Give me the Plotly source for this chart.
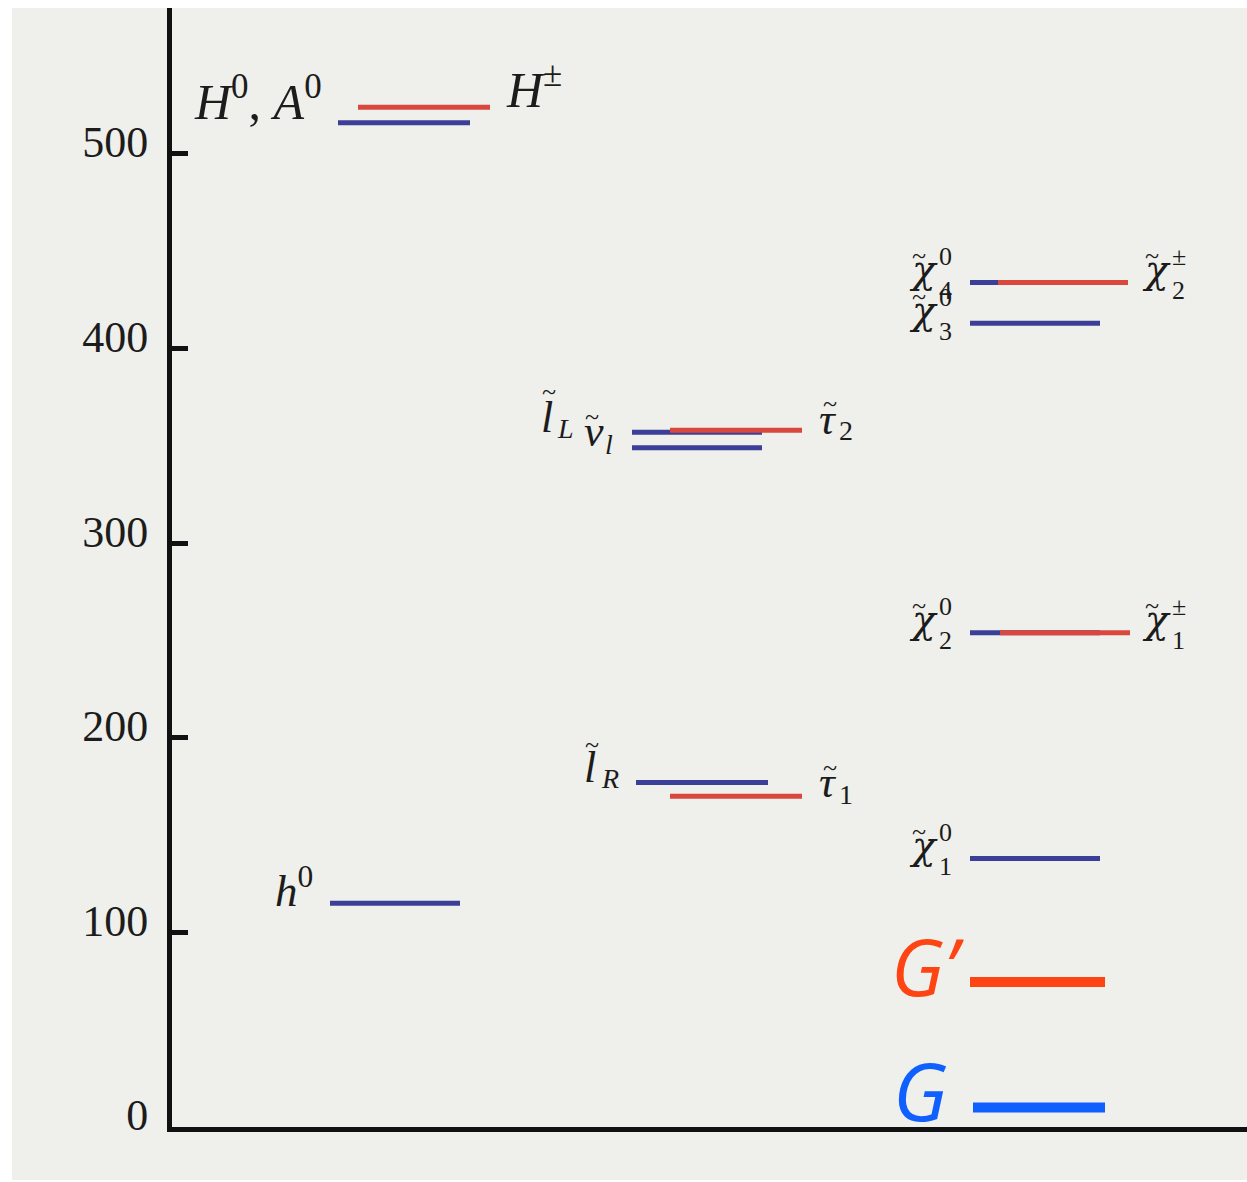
import plotly.graph_objects as go

# ---------------- data (masses, GeV) ----------------
higgs_names = ["h0", "H0A0", "Hpm"]
higgs_masses = [115, 516, 524]

slepton_names = ["lL", "nul", "tau2", "lR", "tau1"]
slepton_masses = [357, 349, 358, 177, 170]

gaugino_names = ["chi40", "chi2pm", "chi30", "chi20", "chi1pm", "chi10"]
gaugino_masses = [434, 434, 413, 254, 254, 138]

gravitino_names = ["Gp", "G"]
gravitino_masses = [74.5, 10]

y_tick_values = [0, 100, 200, 300, 400, 500]
y_tick_labels = ["0", "100", "200", "300", "400", "500"]

# ---------------- styling / layout ----------------
BLUE = "#3c3f97"
RED = "#d9473d"
G_RED = "#ff4414"
G_BLUE = "#1060ff"
TEXT = "#1c1c1c"
SERIF = "Liberation Serif"
CHI_FONT = "DejaVu Serif"

# left end of each level (x-axis units = px from the vertical axis), colour, width, length
style = {
    "h0": (158, BLUE, 5, 130), "H0A0": (166, BLUE, 5, 132), "Hpm": (186, RED, 5, 132),
    "lL": (460, BLUE, 5, 130), "nul": (460, BLUE, 5, 130), "tau2": (498, RED, 5, 132),
    "lR": (464, BLUE, 5, 132), "tau1": (498, RED, 5, 132),
    "chi40": (798, BLUE, 5, 130), "chi2pm": (826, RED, 5, 130), "chi30": (798, BLUE, 5, 130),
    "chi20": (798, BLUE, 5, 130), "chi1pm": (828, RED, 5, 130), "chi10": (798, BLUE, 5, 130),
    "Gp": (798, G_RED, 10, 135), "G": (801, G_BLUE, 10, 132),
}

fig = go.Figure()
mass_of = {}
for names, masses in [(higgs_names, higgs_masses), (slepton_names, slepton_masses),
                      (gaugino_names, gaugino_masses), (gravitino_names, gravitino_masses)]:
    for n, m in zip(names, masses):
        x0, col, w, L = style[n]
        mass_of[n] = m
        fig.add_trace(go.Scatter(x=[x0, x0 + L], y=[m, m], mode="lines",
                                 line=dict(color=col, width=w),
                                 hoverinfo="skip", showlegend=False))

annotations = []


def piece(text, anchor, dx, yshift, size, xanchor="center", font=SERIF, color=TEXT):
    """Place a piece of label text relative to the left end of a level."""
    x0 = style[anchor][0]
    annotations.append(dict(x=x0 + dx, y=mass_of[anchor], xref="x", yref="y", text=text,
                            xanchor=xanchor, yanchor="middle", yshift=yshift,
                            showarrow=False, align="left",
                            font=dict(family=font, size=size, color=color)))


def tilded(base, sub, anchor, dx, yshift, sub_dx, sub_yshift, tilde_dx, tilde_yshift,
           base_size=44, sub_size=28, sub_italic=False):
    piece("<i>%s</i>" % base, anchor, dx, yshift, base_size)
    piece("~", anchor, tilde_dx, tilde_yshift, 26)
    s = "<i>%s</i>" % sub if sub_italic else sub
    piece(s, anchor, sub_dx, sub_yshift, sub_size)


def chi(sup, sub, anchor, dx, yshift=13):
    piece("<i>χ</i>", anchor, dx, yshift, 39, font=CHI_FONT)
    piece("~", anchor, dx - 4, yshift + 14, 26)
    piece(sup + "<br>" + sub, anchor, dx + 14, yshift - 4, 26, xanchor="left")


# Higgs labels
piece("<i>H</i><sup>0</sup>, <i>A</i><sup>0</sup>", "H0A0", -14, 24, 50, xanchor="right")
piece("<i>H</i><sup>±</sup>", "Hpm", 146, 21, 50, xanchor="left")
piece("<i>h</i><sup>0</sup>", "h0", -15, 16, 45, xanchor="right")

# slepton labels
tilded("l", "L", "lL", -85, 15, -67, 4, -83, 41, sub_italic=True)
tilded("ν", "l", "nul", -38, 16, -23, 3, -40, 31, sub_italic=True)
tilded("τ", "2", "tau2", 158, 11, 176, 0, 160, 27)
tilded("l", "R", "lR", -46, 15, -26, 4, -44, 38, sub_italic=True)
tilded("τ", "1", "tau1", 158, 14, 176, 2, 160, 29)

# gaugino labels
chi("0", "4", "chi40", -47)
chi("0", "3", "chi30", -47)
chi("±", "2", "chi2pm", 158)
chi("0", "2", "chi20", -47)
chi("±", "1", "chi1pm", 156)
chi("0", "1", "chi10", -47)

# gravitino labels
piece("<i>G’</i>", "Gp", -4, 16, 78, xanchor="right", font="Open Sans", color=G_RED)
piece("<i>G</i>", "G", -24, 18, 80, xanchor="right", font="Open Sans", color=G_BLUE)

fig.update_layout(
    width=1247, height=1182,
    margin=dict(l=172, r=0, t=8, b=55),
    paper_bgcolor="white",
    plot_bgcolor="#efefeb",
    annotations=annotations,
    shapes=[dict(type="rect", xref="paper", yref="paper",
                 x0=-160 / 1075, x1=1, y0=-53 / 1119, y1=1,
                 fillcolor="#efefeb", line=dict(width=0), layer="below")],
)
fig.update_xaxes(range=[0, 1075], showline=True, linewidth=5, linecolor="#111111",
                 showgrid=False, zeroline=False, showticklabels=False, ticks="")
fig.update_yaxes(range=[0, 575], showline=True, linewidth=5, linecolor="#111111",
                 showgrid=False, zeroline=False,
                 tickmode="array", tickvals=y_tick_values, ticktext=y_tick_labels,
                 ticks="inside", ticklen=16, tickwidth=5, tickcolor="#111111",
                 ticklabelshift=-12, ticklabelstandoff=10,
                 tickfont=dict(family=SERIF, size=44, color=TEXT))

fig.write_html("out.html")
